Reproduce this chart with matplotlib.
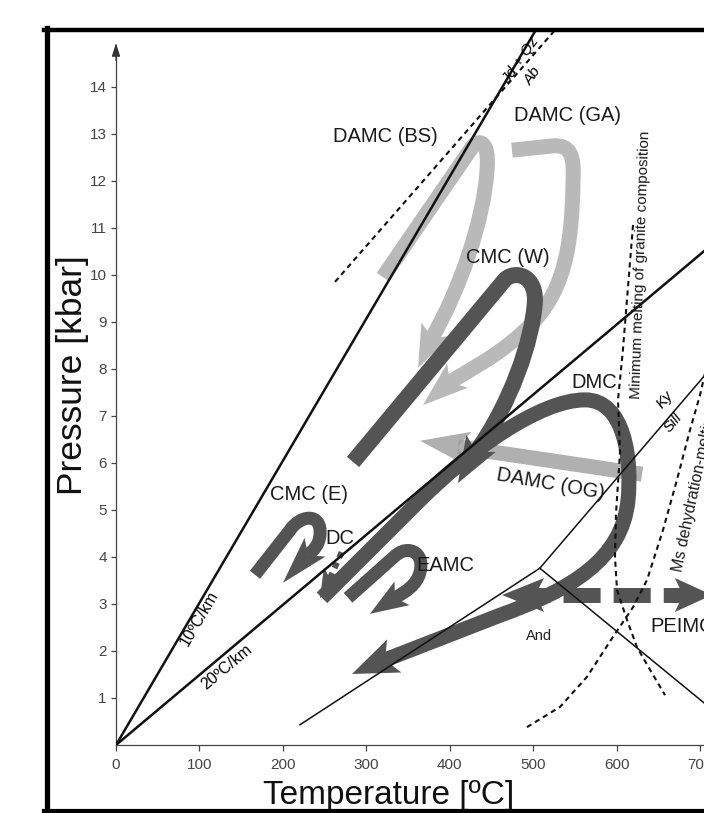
import numpy as np
import matplotlib
matplotlib.use('Agg')
import matplotlib.pyplot as plt
from matplotlib.path import Path
from matplotlib.patches import PathPatch, Polygon
from matplotlib.lines import Line2D
from matplotlib.transforms import IdentityTransform

plt.rcParams['font.family'] = ['Liberation Sans', 'DejaVu Sans']

# ---- axes ticks ----
x_ticks = [0, 100, 200, 300, 400, 500, 600, 700]
y_ticks = list(range(1, 15))

# ---- reference lines (T in degC, P in kbar) ----
geo10_T, geo10_P = [0, 503], [0, 15.2]
geo20_T, geo20_P = [0, 710], [0, 10.58]
jdqz_T, jdqz_P = [262.5, 526], [9.85, 15.2]
and_ky_T, and_ky_P = [220.5, 508], [0.43, 3.76]
ky_sil_T, ky_sil_P = [508, 710], [3.76, 7.95]
and_sil_T, and_sil_P = [508, 710], [3.76, 0.82]

minmelt_T = [619.7, 607.3, 601.7, 604.1, 599.3, 598.1, 600.5, 612.5, 624.5, 640.1, 658.1]
minmelt_P = [11.06, 8.34, 7.34, 6.21, 4.93, 4.0, 3.30, 2.66, 2.08, 1.60, 1.06]

msmelt_T = [492.6, 532.2, 564.6, 595.7, 619.7, 636.5, 655.6, 672.4, 688, 700, 709.6]
msmelt_P = [0.38, 0.81, 1.45, 2.30, 2.93, 3.51, 4.57, 5.64, 6.70, 7.44, 8.19]

# ---- P-T paths (bezier control points) ----
M, L, C = Path.MOVETO, Path.LINETO, Path.CURVE4

bs_T = [320, 424.3, 434, 448, 444.7, 441, 412, 378.8]
bs_P = [9.95, 12.65, 12.93, 12.87, 12.23, 11.17, 9.68, 8.66]
bs_codes = [M, L, C, C, C, C, C, C]
bs_tip = (362, 8.02)

ga_T = [474.6, 522.6, 546.6, 549, 547.8, 546.6, 532.2, 484.2, 454.3, 424.3, 400.3]
ga_P = [12.65, 12.74, 12.78, 12.48, 12.02, 10.31, 9.46, 8.72, 8.25, 7.98, 7.72]
ga_codes = [M, L, C, C, C, C, C, C, C, C, C]
ga_tip = (368, 7.23)

og_T = [630.5, 409.9]
og_P = [5.76, 6.34]
og_codes = [M, L]
og_tip = (364.4, 6.47)

cmcw_T = [284.1, 463.9, 473.5, 502.2, 502.2, 499.8, 472.2, 431.5]
cmcw_P = [6.02, 9.85, 10.10, 10.06, 9.46, 8.61, 7.23, 6.23]
cmcw_codes = [M, L, C, C, C, C, C, C]
cmcw_tip = (409.9, 5.57)

dmc_T = [246.9, 364.4, 424.3, 508.2, 562.2, 610.1, 618.5, 613.7, 606.5, 544.2, 460.3, 322.4]
dmc_P = [3.13, 5.21, 6.27, 7.34, 7.34, 7.34, 6.06, 5.21, 3.93, 3.30, 2.76, 1.81]
dmc_codes = [M, L, C, C, C, C, C, C, C, C, C, L]
dmc_tip = (282.9, 1.51)

cmce_T = [166.6, 208.6, 220.5, 246.9, 244.5, 243.3, 237.3, 230.1]
cmce_P = [3.62, 4.57, 4.89, 4.96, 4.47, 4.25, 4.15, 4.04]
cmce_codes = [M, L, C, C, C, C, C, C]
cmce_tip = (200.2, 3.45)

eamc_T = [278.1, 334.4, 350, 370.4, 364.4, 360.8, 346.4, 334.4]
eamc_P = [3.13, 4.02, 4.27, 4.10, 3.68, 3.40, 3.25, 3.13]
eamc_codes = [M, L, C, C, C, C, C, C]
eamc_tip = (304.4, 2.79)

dc_T = [270.5, 256.5]
dc_P = [4.10, 3.55]
dc_tip = (244.5, 3.12)

peimc_T = [502.2, 679.6]
peimc_P = [3.19, 3.19]
peimc_tip_left = (462.7, 3.19)
peimc_tip_right = (714.4, 3.19)

# ---- labels ----
labels = ['DAMC (BS)', 'DAMC (GA)', 'CMC (W)', 'DMC', 'CMC (E)', 'DC', 'EAMC']
label_T = [323, 540.6, 469.9, 573.5, 231.3, 268.5, 394.9]
label_P = [12.95, 13.38, 10.36, 7.70, 5.32, 4.40, 3.81]

DARK = '#545454'
LIGHT = '#b9b9b9'
MID = '#9c9c9c'

fig = plt.figure(figsize=(7.04, 8.13), dpi=100)
fig.patch.set_facecolor('white')
ax = fig.add_axes([116 / 704, 68 / 813, 588 / 704, 715 / 813])
ax.set_xlim(0, 588 / 0.8343)
ax.set_ylim(0, 715 / 47.02)
ax.patch.set_alpha(0)


def head(base, tip, color, w, z, alpha=1.0):
    b = ax.transData.transform(base)
    e = ax.transData.transform(tip)
    d = e - b
    ln = np.hypot(*d)
    d = d / ln
    n = np.array([-d[1], d[0]])
    back = 0.28 * ln
    pts = [e, b + n * w / 2 - d * back, b, b - n * w / 2 - d * back]
    ax.add_patch(Polygon(pts, closed=True, fc=color, ec='none', alpha=alpha,
                         zorder=z, transform=IdentityTransform()))


def band(T, P, codes, tip, color, wpx, hw, z, alpha=1.0):
    verts = np.column_stack([T, P])
    ax.add_patch(PathPatch(Path(verts, codes), fill=False, ec=color,
                           lw=wpx * 0.72, capstyle='butt', joinstyle='round',
                           alpha=alpha, zorder=z))
    head(verts[-1], tip, color, hw, z, alpha)


# light grey paths
band(bs_T, bs_P, bs_codes, bs_tip, LIGHT, 15, 32, 1)
band(ga_T, ga_P, ga_codes, ga_tip, LIGHT, 15, 32, 1)
band(og_T, og_P, og_codes, og_tip, MID, 15, 34, 1.5, alpha=0.8)

# dark paths
band(dmc_T, dmc_P, dmc_codes, dmc_tip, DARK, 15, 36, 2)
band(cmcw_T, cmcw_P, cmcw_codes, cmcw_tip, DARK, 16, 34, 2.2)
band(eamc_T, eamc_P, eamc_codes, eamc_tip, DARK, 13, 28, 2.4)
band(cmce_T, cmce_P, cmce_codes, cmce_tip, DARK, 13, 28, 2.4)
ax.plot(dc_T, dc_P, color=DARK, lw=6 * 0.72, dashes=(1, 0.9), solid_capstyle='butt', zorder=2.4)
head((dc_T[-1], dc_P[-1]), dc_tip, DARK, 20, 2.4)

# PEIMC dashed double arrow
ax.plot(peimc_T, peimc_P, color=DARK, lw=15 * 0.72, dashes=(1.0, 0.87, 2.47, 0.87, 2.47, 0.87, 2.47, 0.87),
        solid_capstyle='butt', dash_capstyle='butt', zorder=2.4)
head((peimc_T[0], peimc_P[0]), peimc_tip_left, DARK, 34, 2.4)
head((peimc_T[-1], peimc_P[-1]), peimc_tip_right, DARK, 34, 2.4)

# reference lines
lk = '#111111'
ax.plot(geo10_T, geo10_P, color=lk, lw=1.8, zorder=5)
ax.plot(geo20_T, geo20_P, color=lk, lw=1.8, zorder=5)
ax.plot(jdqz_T, jdqz_P, color=lk, lw=1.5, dashes=(2.5, 2), zorder=5)
ax.plot(and_ky_T, and_ky_P, color=lk, lw=1.1, zorder=5)
ax.plot(ky_sil_T, ky_sil_P, color=lk, lw=1.1, zorder=5)
ax.plot(and_sil_T, and_sil_P, color=lk, lw=1.1, zorder=5)
ax.plot(minmelt_T, minmelt_P, color=lk, lw=1.5, dashes=(2.5, 2), zorder=5)
ax.plot(msmelt_T, msmelt_P, color=lk, lw=1.5, dashes=(2.5, 2), zorder=5)

# text labels
for s, t, p in zip(labels, label_T, label_P):
    ax.text(t, p, s, fontsize=14.5, ha='center', va='center', color='#1a1a1a', zorder=6)
ax.text(521.4, 5.55, 'DAMC (OG)', fontsize=14.5, ha='center', va='center', rotation=-10,
        color='#1a1a1a', zorder=6)
ax.text(640, 2.51, 'PEIMC', fontsize=14.5, ha='left', va='center', color='#1a1a1a', zorder=6)
ax.text(507, 2.32, 'And', fontsize=10.5, ha='center', va='center', color='#222', zorder=6,
        family=['Liberation Sans Narrow', 'Liberation Sans'])
ax.text(629.3, 10.21, 'Minimum melting of granite composition', fontsize=11, rotation=88,
        ha='center', va='center', color='#1a1a1a', zorder=6)
ax.text(678.4, 3.68, 'Ms dehydration-melting', fontsize=11.5, rotation=78, ha='left',
        va='baseline', rotation_mode='anchor', color='#1a1a1a', zorder=6)
ax.text(658, 7.34, 'Ky', fontsize=11, style='italic', rotation=50, ha='center', va='center', zorder=6)
ax.text(667.6, 6.85, 'Sill', fontsize=11, style='italic', rotation=50, ha='center', va='center', zorder=6)
ax.text(485.4, 14.57, 'Jd + Qz', fontsize=11, style='italic', rotation=55, ha='center', va='center', zorder=6)
ax.text(499, 14.22, 'Ab', fontsize=11, style='italic', rotation=55, ha='center', va='center', zorder=6)
ax.text(99.5, 2.70, '10ºC/km', fontsize=11.5, rotation=59.6, ha='center', va='center', zorder=6,
        family=['Liberation Sans Narrow', 'Liberation Sans'])
ax.text(133, 1.66, '20ºC/km', fontsize=11.5, rotation=39.8, ha='center', va='center', zorder=6,
        family=['Liberation Sans Narrow', 'Liberation Sans'])

# axes
for s in ['top', 'right']:
    ax.spines[s].set_visible(False)
for s in ['left', 'bottom']:
    ax.spines[s].set_color('#444')
    ax.spines[s].set_linewidth(0.9)
ax.spines['left'].set_bounds(0, 14.7)
ax.set_xticks(x_ticks)
ax.set_xticklabels([str(v) for v in x_ticks])
ax.set_yticks(y_ticks)
ax.set_yticklabels([str(v) for v in y_ticks])
ax.tick_params(axis='x', direction='out', length=4.3, width=0.9, pad=5, labelsize=11,
               colors='#444')
ax.tick_params(axis='y', direction='out', length=3.6, width=0.9, pad=3, labelsize=11,
               colors='#444')
for lab in ax.get_xticklabels() + ax.get_yticklabels():
    lab.set_family(['Liberation Sans Narrow', 'Liberation Sans'])
ax.annotate('', xy=(0, 14.99), xytext=(0, 14.5), annotation_clip=False,
            arrowprops=dict(arrowstyle='-|>,head_length=0.8,head_width=0.25',
                            color='#333', lw=0.9))

ax.text(0.4634, -0.0823, 'Temperature [ºC]', transform=ax.transAxes, fontsize=24,
        ha='center', va='baseline', color='#111')
ax.text(-0.0748, 0.5177, 'Pressure [kbar]', transform=ax.transAxes, fontsize=25.5,
        rotation=90, ha='center', va='center', color='#111')

# outer frame
fig.add_artist(Line2D([46.5 / 704] * 2, [0, 1 - 28 / 813], color='k', lw=3.8))
fig.add_artist(Line2D([44 / 704, 1], [1 - 30.5 / 813] * 2, color='k', lw=3.2))
fig.add_artist(Line2D([44 / 704, 1], [2 / 813] * 2, color='k', lw=3.0))

fig.savefig('out.png', dpi=100)
